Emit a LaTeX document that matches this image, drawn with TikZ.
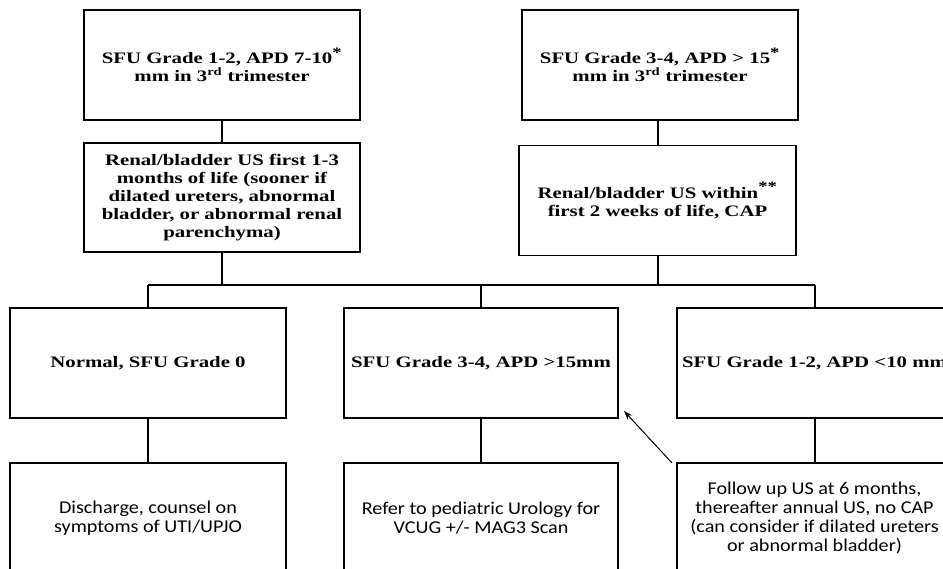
\documentclass[tikz,border=0pt]{standalone}
\usepackage{fontspec}
\setmainfont{Liberation Serif}
\newfontfamily\boxserif{Liberation Serif}[FakeStretch=1.3]
\newfontfamily\boxsans[FakeStretch=1.12]{Carlito}
\usetikzlibrary{positioning, calc, arrows.meta}

\tikzset{
    flowbox/.style={draw, line width=1.8pt, minimum width=276pt, minimum height=110pt, align=center, inner sep=2pt},
    serifbox/.style={flowbox, font=\boxserif\fontsize{16}{18}\selectfont\bfseries},
    sansbox/.style={flowbox, font=\boxsans\fontsize{18}{19}\selectfont},
    link/.style={line width=2pt}
}

\begin{document}
\begin{tikzpicture}[x=1pt, y=-1pt]
    \useasboundingbox (0,0) rectangle (943,569);
    \clip (0,0) rectangle (943,569);

    % prenatal findings
    \node[serifbox] (mild) at (222,65) {SFU Grade 1-2, APD 7-10\textsuperscript{\Large*}\\mm in 3\textsuperscript{rd} trimester};
    \node[serifbox] (severe) at (660,65) {SFU Grade 3-4, APD > 15\textsuperscript{\Large*}\\mm in 3\textsuperscript{rd} trimester};

    % postnatal imaging
    \node[serifbox, minimum height=109pt] (usmild) at (222,197.5) {Renal/bladder US first 1-3\\months of life (sooner if\\dilated ureters, abnormal\\bladder, or abnormal renal\\parenchyma)};
    \node[serifbox, minimum width=277pt] (ussevere) at (657.5,200.5) {Renal/bladder US within\textsuperscript{\Large**}\\first 2 weeks of life, CAP};

    % results
    \node[serifbox] (normal) at (148,363) {Normal, SFU Grade 0};
    \node[serifbox, minimum width=274pt] (sfuhigh) at (481,363) {SFU Grade 3-4, APD >15mm};
    \node[serifbox, minimum width=275pt] (sfulow) at (814.5,363) {SFU Grade 1-2, APD <10 mm};

    % management
    \node[sansbox] (discharge) at (148,518) {Discharge, counsel on\\symptoms of UTI/UPJO};
    \node[sansbox, minimum width=274pt] (refer) at (481,518) {Refer to pediatric Urology for\\VCUG +/- MAG3 Scan};
    \node[sansbox, minimum width=275pt] (followup) at (814.5,518) {Follow up US at 6 months,\\thereafter annual US, no CAP\\(can consider if dilated ureters\\or abnormal bladder)};

    \coordinate (busL) at (148,285);
    \coordinate (busR) at (814.5,285);

    \draw[link] (mild) -- (usmild);
    \draw[link] (severe.south -| ussevere) -- (ussevere);
    \draw[link] (usmild) -- (usmild |- busL);
    \draw[link] (ussevere) -- (ussevere |- busL);
    \draw[link] (busL) -- (busR);
    \draw[link] (busL) -- (normal);
    \draw[link] (sfuhigh |- busL) -- (sfuhigh);
    \draw[link] (busR) -- (sfulow);

    \draw[link] (normal) -- (discharge);
    \draw[link] (sfuhigh) -- (refer);
    \draw[link] (sfulow) -- (followup);

    \draw[line width=1pt, -{Stealth[length=9pt, width=6pt]}] ([xshift=-4pt, yshift=-1pt]followup.north west) -- ([xshift=5pt, yshift=8pt]sfuhigh.south east);
\end{tikzpicture}
\end{document}
